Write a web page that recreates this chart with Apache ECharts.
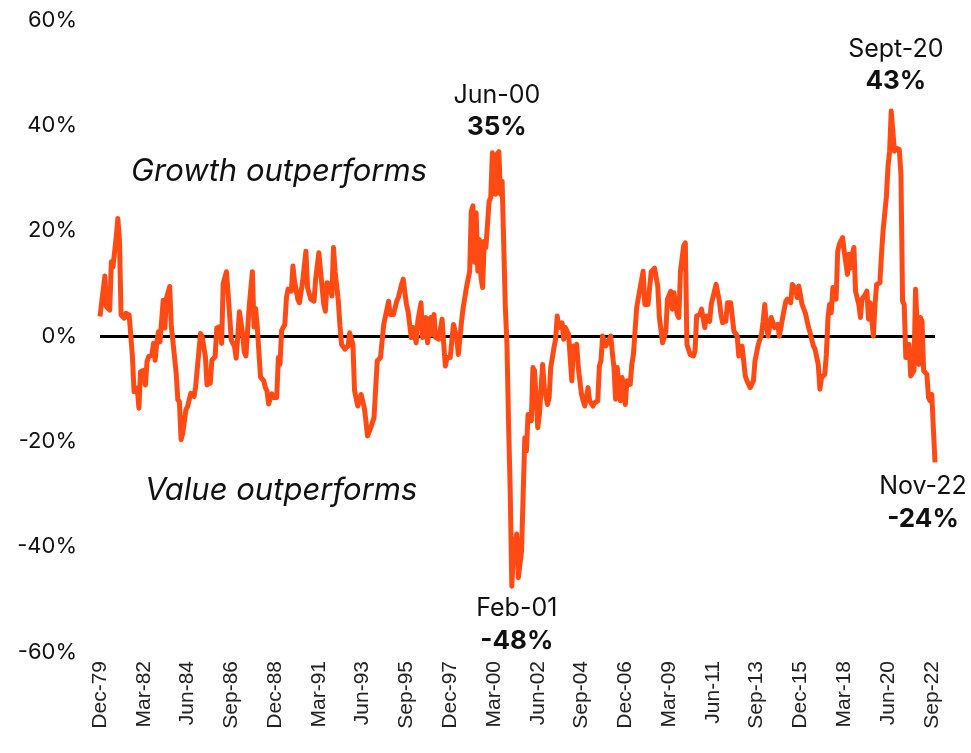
<!DOCTYPE html>
<html>
<head>
<meta charset="utf-8">
<script src="https://cdn.jsdelivr.net/npm/echarts@6/dist/echarts.min.js"></script>
<style>
  html, body { margin: 0; padding: 0; background: #fff; }
  #chart { width: 971px; height: 753px; }
</style>
</head>
<body>
<div id="chart"></div>
<script>
// x tick labels, one every 27 months starting Dec-79 (month 0)
const tickLabels = ['Dec-79', 'Mar-82', 'Jun-84', 'Sep-86', 'Dec-88', 'Mar-91', 'Jun-93', 'Sep-95', 'Dec-97', 'Mar-00',
  'Jun-02', 'Sep-04', 'Dec-06', 'Mar-09', 'Jun-11', 'Sep-13', 'Dec-15', 'Mar-18', 'Jun-20', 'Sep-22'];
const yTicks = [-60, -40, -20, 0, 20, 40, 60];

// [months since Dec-79, growth minus value %]
const spread = [
  [0,3.7],[3,11.4],[4,5.6],[6,4.9],[7,14.1],[8,13.1],[10,18.8],[11,22.3],[12,18.2],[13,4.0],[15,3.4],[16,4.3],[18,4.0],[20,-3.9],
  [21,-10.6],[23,-9.9],[24,-13.7],[25,-6.8],[27,-6.5],[28,-9.3],[29,-4.9],[30,-3.9],[32,-3.6],[33,-1.4],[34,-4.6],[35,-1.4],[36,0.8],
  [37,-1.1],[39,6.8],[40,1.5],[41,7.2],[43,9.4],[44,1.8],[45,-1.1],[47,-7.1],[48,-12.1],[49,-12.5],[50,-19.7],[51,-18.5],[53,-14.0],
  [54,-13.4],[56,-10.9],[57,-10.6],[58,-11.5],[59,-9.6],[60,-9.9],[62,0.5],[63,-0.1],[65,-3.9],[66,-9.3],[67,-7.4],[68,-9.0],[69,-4.6],
  [71,-3.9],[72,1.5],[74,1.8],[75,-1.4],[76,10.0],[78,12.2],[79,8.1],[81,-0.8],[83,-2.0],[84,-4.2],[85,-4.4],[86,4.6],[88,0.3],
  [89,-3.1],[90,-3.8],[92,5.5],[94,12.2],[95,1.7],[96,5.2],[97,1.7],[99,-7.8],[101,-8.5],[102,-9.8],[103,-10.4],[104,-12.9],[106,-11.0],
  [107,-11.7],[109,-11.7],[110,-4.1],[111,-5.4],[112,1.0],[114,2.2],[115,7.3],[116,8.9],[118,8.5],[119,13.3],[120,10.4],[122,7.0],
  [123,6.3],[125,10.4],[127,16.1],[128,9.2],[130,7.0],[132,6.6],[133,10.8],[135,15.8],[136,15.5],[138,6.0],[139,4.7],[140,10.1],
  [142,9.8],[143,7.6],[144,16.8],[145,12.3],[147,6.6],[148,1.9],[149,-1.6],[151,-2.5],[153,-1.9],[154,0.6],[156,-1.6],[157,-10.4],
  [159,-13.3],[160,-13.3],[161,-11.1],[163,-13.6],[164,-16.1],[165,-19.0],[167,-17.4],[169,-15.5],[170,-15.2],[171,-4.7],[173,-4.1],
  [174,-4.4],[175,2.2],[178,6.6],[179,4.1],[181,4.1],[183,6.6],[184,7.3],[186,9.8],[187,10.8],[189,6.0],[190,4.7],[192,-0.3],[193,1.6],
  [195,-1.3],[196,2.8],[198,6.3],[199,-0.3],[200,2.2],[201,3.5],[202,-1.3],[204,3.5],[205,0.3],[206,4.1],[207,-0.3],[209,-0.6],[211,3.2],
  [212,-1.6],[213,-5.7],[214,-4.1],[216,-4.1],[218,2.2],[219,2.5],[220,-0.3],[221,-3.5],[223,2.8],[224,5.4],[226,9.2],[228,12.3],
  [229,23.7],[230,24.7],[231,14.0],[232,23.4],[233,12.3],[234,18.3],[235,11.0],[236,9.2],[237,18.0],[238,16.8],[240,25.6],[241,26.3],
  [242,34.8],[243,35.1],[244,26.9],[245,34.6],[246,35.0],[247,26.9],[248,29.4],[250,5.4],[251,-1.6],[252,-16.8],[253,-29.4],[254,-47.5],
  [255,-40.8],[257,-37.6],[258,-45.9],[260,-40.8],[262,-19.3],[263,-21.8],[264,-14.9],[265,-14.6],[266,-16.1],[267,-6.0],[268,-6.6],
  [270,-17.4],[271,-14.9],[273,-5.4],[274,-9.8],[276,-13.0],[277,-11.7],[278,-6.0],[280,-2.2],[281,-0.6],[282,3.8],[283,1.6],[285,2.5],
  [286,-0.6],[287,1.6],[289,0.3],[290,0],[291,-8.5],[292,-1.9],[293,-2.5],[294,-1.6],[295,-6.0],[297,-11.1],[298,-12.3],[299,-13.3],
  [301,-9.8],[302,-12.3],[304,-13.3],[305,-12.7],[307,-12.3],[308,-5.7],[309,-4.7],[310,0],[312,-1.9],[313,-2.2],[315,0],[316,-3.2],
  [317,-6.0],[318,-12.0],[319,-6.0],[321,-12.3],[322,-7.9],[324,-13.0],[325,-8.5],[327,-9.2],[328,-5.4],[329,-3.5],[331,5.4],[332,5.7],
  [333,8.9],[335,12.3],[336,6.0],[338,6.0],[339,9.2],[340,12.2],[342,12.9],[344,9.5],[345,3.5],[347,-1.3],[349,0.9],[350,7.0],[352,8.5],
  [353,5.1],[354,8.2],[356,4.1],[357,3.5],[358,12.3],[360,17.1],[361,17.7],[362,-1.6],[364,-3.5],[366,-3.8],[367,-2.8],[368,3.8],
  [370,4.1],[371,5.1],[373,1.6],[374,3.8],[376,2.8],[377,6.0],[378,6.3],[380,9.8],[382,6.6],[383,4.1],[384,2.5],[386,2.8],[387,6.3],
  [389,6.3],[390,3.5],[391,0.9],[393,0],[394,-3.8],[396,-1.9],[397,-2.2],[398,-7.6],[399,-8.5],[401,-9.8],[403,-8.5],[404,-4.7],
  [406,-1.6],[408,0.3],[409,2.8],[410,6.0],[411,2.2],[412,0],[414,3.5],[415,3.5],[416,1.6],[418,2.2],[419,0],[420,0],[422,5.1],
  [423,6.6],[424,7.0],[426,6.3],[427,9.8],[429,8.9],[430,7.3],[431,9.5],[433,6.0],[435,4.4],[436,4.1],[437,1.6],[438,0.6],[440,-1.9],
  [441,-2.5],[443,-5.4],[444,-10.1],[445,-7.9],[447,-7.3],[448,-3.5],[449,3.5],[450,6.0],[451,4.4],[452,9.2],[453,8.9],[454,7.0],
  [455,16.1],[456,17.4],[458,18.7],[459,16.1],[461,11.7],[462,15.5],[463,12.9],[464,15.5],[465,16.8],[466,8.5],[468,6.0],[469,3.5],
  [470,7.0],[472,7.9],[473,8.5],[474,3.2],[475,6.3],[476,6.0],[477,0],[478,6.0],[479,9.8],[481,10.1],[482,15.5],[483,20.1],[485,26.4],
  [486,32.1],[487,35.1],[488,42.7],[489,43.0],[490,35.1],[491,35.7],[493,35.4],[494,30.6],[495,6.6],[496,6.0],[497,-4.1],[498,-2.8],
  [499,-1.6],[500,-7.6],[502,-6.6],[503,8.9],[504,2.2],[505,-5.4],[506,3.5],[507,2.8],[508,-6.6],[510,-7.3],[511,-11.7],[512,-12.3],
  [513,-11.1],[515,-24.0]
];

// callouts: [month, value, date text, value text]
const callouts = [
  [246, 35, 'Jun-00', '35%'],
  [254, -47.5, 'Feb-01', '-48%'],
  [489, 43, 'Sept-20', '43%'],
  [515, -24, 'Nov-22', '-24%']
];

const chart = echarts.init(document.getElementById('chart'));
const lastMonth = spread[spread.length - 1][0];

const calloutLabel = function (c, pos, dist, dx) {
  return {
    coord: [c[0], c[1]],
    value: c[3],
    label: {
      show: true,
      position: pos,
      distance: dist,
      offset: [dx, 0],
      align: 'center',
      formatter: '{d|' + c[2] + '}\n{v|' + c[3] + '}',
      rich: {
        d: { fontFamily: 'Inter', fontSize: 25, color: '#111', lineHeight: 33 },
        v: { fontFamily: 'Inter', fontSize: 26, fontWeight: 'bold', color: '#111', lineHeight: 32 }
      }
    }
  };
};

const option = {
  animation: false,
  grid: { left: 100, right: 36, top: 20, bottom: 101 },
  xAxis: {
    type: 'value',
    min: 0,
    max: lastMonth,
    interval: 27,
    axisLine: { show: false },
    axisTick: { show: false },
    splitLine: { show: false },
    axisLabel: {
      rotate: 90,
      margin: 9,
      showMaxLabel: false,
      fontFamily: 'Liberation Sans',
      fontSize: 21,
      color: '#222',
      formatter: function (v) {
        return v % 27 === 0 ? (tickLabels[v / 27] || '') : '';
      }
    }
  },
  yAxis: {
    type: 'value',
    min: yTicks[0],
    max: yTicks[yTicks.length - 1],
    interval: 20,
    axisLine: { show: false },
    axisTick: { show: false },
    splitLine: { show: false },
    axisLabel: {
      margin: 23,
      fontFamily: 'Inter',
      fontSize: 22,
      color: '#111',
      formatter: '{value}%'
    }
  },
  graphic: [
    { type: 'text', left: 131, top: 156, style: { text: 'Growth outperforms', font: 'italic 31px Inter', fill: '#111' } },
    { type: 'text', left: 145, top: 475, style: { text: 'Value outperforms', font: 'italic 31px Inter', fill: '#111' } }
  ],
  series: [
    {
      type: 'line',
      data: spread,
      symbol: 'none',
      lineStyle: { color: '#ff4a14', width: 5, join: 'round' },
      z: 3,
      markLine: {
        silent: true,
        symbol: 'none',
        label: { show: false },
        lineStyle: { color: '#000', width: 3, type: 'solid' },
        data: [{ yAxis: 0 }],
        z: 2
      },
      markPoint: {
        symbol: 'circle',
        symbolSize: 0,
        silent: true,
        data: [
          calloutLabel(callouts[0], 'top', 8, -2),
          calloutLabel(callouts[1], 'bottom', 6, 5),
          calloutLabel(callouts[2], 'top', 12, 3),
          calloutLabel(callouts[3], 'bottom', 8, -12)
        ]
      }
    }
  ]
};

chart.setOption(option);
</script>
</body>
</html>
